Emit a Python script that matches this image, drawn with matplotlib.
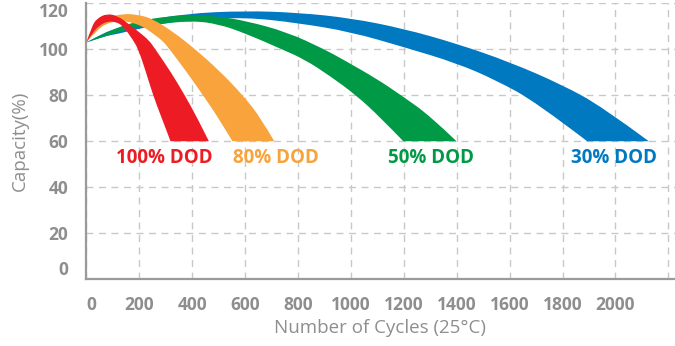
# 방전심도(DOD)별 사이클 수에 따른 용량 변화 밴드 차트

import numpy as np
import matplotlib
matplotlib.use('Agg')
import matplotlib.pyplot as plt
from matplotlib.path import Path
from matplotlib.patches import PathPatch

plt.rcParams['font.family'] = ['Open Sans', 'DejaVu Sans']

# 데이터: 각 밴드의 바깥쪽(위) 경계와 안쪽(아래) 경계
red_up_x = [0, 20, 40, 78, 120, 160, 200, 237, 261, 320, 372, 420, 463]
red_up_y = [103, 110, 113.5, 115.6, 114.5, 111, 107.5, 103.9, 100, 90, 80, 70, 60]
red_lo_x = [0, 25, 50, 80, 110, 137, 177, 196, 220, 252, 285, 318]
red_lo_y = [103, 107.5, 110.5, 112.2, 112, 110.4, 104, 100, 92, 80, 70, 60]

orange_up_x = [0, 30, 70, 137, 200, 250, 330, 412, 500, 592, 660, 710]
orange_up_y = [103, 109.5, 113.5, 115.6, 115, 113.3, 107.5, 100, 91, 80, 70, 60]
orange_lo_x = [0, 40, 80, 130, 180, 220, 250, 287, 315, 380, 441, 500, 552]
orange_lo_y = [103, 108.5, 111.5, 112.5, 111.5, 109.5, 107, 103.9, 100, 90, 80, 70, 60]

green_up_x = [0, 100, 200, 300, 400, 500, 600, 760, 900, 970, 1100, 1190, 1300, 1399]
green_up_y = [103, 109, 112.4, 114.3, 115, 114.3, 112.5, 107.5, 100, 95.6, 87, 80, 71, 60]
green_lo_x = [0, 124, 200, 250, 400, 500, 600, 740, 825, 920, 1020, 1110, 1198]
green_lo_y = [103, 107.8, 110, 110.8, 112.5, 111, 107, 100, 95.6, 88.5, 80, 70.5, 60]

blue_up_x = [0, 60, 124, 200, 375, 600, 800, 1000, 1200, 1400, 1600, 1800, 1950, 2126]
blue_up_y = [103, 107, 109.5, 112, 115.6, 116.8, 116, 113.6, 109, 102.5, 94.5, 84.5, 75, 60]
blue_lo_x = [0, 60, 124, 200, 300, 400, 600, 800, 1000, 1200, 1400, 1550, 1700, 1893]
blue_lo_y = [103, 105.5, 106.9, 109, 111.5, 112.8, 114, 111.5, 107.6, 101, 94, 86.5, 77, 60]

labels = ['100% DOD', '80% DOD', '50% DOD', '30% DOD']
label_x = [293, 716, 1304, 1996]
label_y = [52.6, 52.6, 52.6, 52.6]

colors = ['#ED1C24', '#F8A33B', '#009A46', '#0079C1']

xticks = [0, 200, 400, 600, 800, 1000, 1200, 1400, 1600, 1800, 2000, 2200]
yticks = [0, 20, 40, 60, 80, 100, 120]

bands = [
    (red_up_x, red_up_y, red_lo_x, red_lo_y),
    (orange_up_x, orange_up_y, orange_lo_x, orange_lo_y),
    (green_up_x, green_up_y, green_lo_x, green_lo_y),
    (blue_up_x, blue_up_y, blue_lo_x, blue_lo_y),
]

gray = '#8E8E8E'


def edge_path(xs, ys, first):
    # 점들을 이차 베지어로 부드럽게 잇기 (중점 사이를 제어점으로)
    pts = list(zip(xs, ys))
    verts = [pts[0]]
    codes = [Path.MOVETO if first else Path.LINETO]
    for i in range(1, len(pts) - 1):
        mid = ((pts[i][0] + pts[i + 1][0]) / 2, (pts[i][1] + pts[i + 1][1]) / 2)
        if i == len(pts) - 2:
            mid = pts[i + 1]
        verts += [pts[i], mid]
        codes += [Path.CURVE3, Path.CURVE3]
    return verts, codes


fig = plt.figure(figsize=(6.75, 3.46), dpi=100)
ax = fig.add_axes([0.128, 0.1936, 0.872, 0.7964])

# 파란색부터 그려서 빨간색이 맨 위에 오도록
for i in [3, 2, 1, 0]:
    ux, uy, lx, ly = bands[i]
    v1, c1 = edge_path(ux, uy, True)
    v2, c2 = edge_path(lx[::-1], ly[::-1], False)
    verts = v1 + v2 + [v1[0]]
    codes = c1 + c2 + [Path.CLOSEPOLY]
    ax.add_patch(PathPatch(Path(verts, codes), facecolor=colors[i], lw=0, zorder=3))
    ax.text(label_x[i], label_y[i], labels[i], color=colors[i], fontsize=13.5,
            fontweight='bold', ha='center', va='center', zorder=4)

ax.set_xlim(0, 2225)
ax.set_ylim(0, 120)
ax.set_xticks(xticks)
ax.set_xticklabels([str(v) if v < 2200 else '' for v in xticks])
ax.set_yticks(yticks)
ax.set_yticklabels([str(v) for v in yticks])

ax.grid(True, color='#C8C8C8', linestyle=(0, (5, 4)), linewidth=1, zorder=0)
ax.tick_params(length=0, colors=gray, labelsize=12.5, pad=12)
ax.tick_params(axis='y', pad=13)
for lab in ax.get_xticklabels() + ax.get_yticklabels():
    lab.set_fontweight('bold')
ax.get_xticklabels()[0].set_horizontalalignment('left')
ax.get_yticklabels()[0].set_verticalalignment('bottom')
ax.get_yticklabels()[-1].set_verticalalignment('top')

for s in ['top', 'right']:
    ax.spines[s].set_visible(False)
for s in ['left', 'bottom']:
    ax.spines[s].set_color('#9A9A9A')
    ax.spines[s].set_linewidth(1.6)

fig.text(0.030, 0.592, 'Capacity(%)', rotation=90, color=gray, fontsize=13.5,
         ha='center', va='center')
fig.text(0.563, 0.052, 'Number of Cycles (25°C)', color=gray, fontsize=13.5,
         ha='center', va='center')

fig.savefig('out.png', dpi=100)
